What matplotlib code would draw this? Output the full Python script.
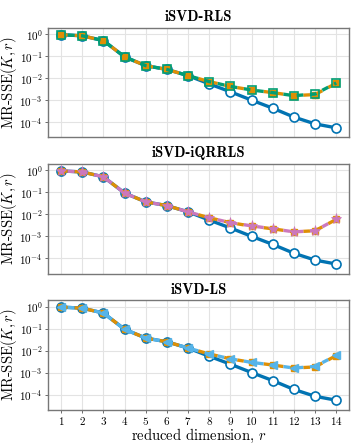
import matplotlib
matplotlib.use("Agg")
import matplotlib.pyplot as plt

r = list(range(1, 15))

# MR-SSE of the exact truncated SVD (blue, solid)
svd_err = [0.95, 0.85, 0.51, 0.093, 0.037, 0.025, 0.013, 0.0055, 0.0024,
           0.001, 0.00043, 0.00017, 0.000083, 0.000055]
# reference incremental method (orange, dashed)
inc_err = [0.95, 0.85, 0.51, 0.093, 0.037, 0.025, 0.013, 0.007, 0.0042,
           0.0029, 0.0022, 0.0016, 0.0018, 0.0059]
# the three update variants
rls_err = [0.95, 0.85, 0.51, 0.093, 0.037, 0.025, 0.013, 0.007, 0.0042,
           0.0029, 0.0022, 0.0016, 0.0019, 0.006]
iqrrls_err = [0.95, 0.85, 0.51, 0.093, 0.037, 0.025, 0.013, 0.007, 0.0042,
              0.003, 0.0022, 0.0016, 0.0018, 0.006]
ls_err = [0.95, 0.85, 0.51, 0.093, 0.037, 0.025, 0.013, 0.007, 0.0042,
          0.0029, 0.0022, 0.0016, 0.0019, 0.006]

titles = ["iSVD-RLS", "iSVD-iQRRLS", "iSVD-LS"]
variants = [rls_err, iqrrls_err, ls_err]
var_colors = ["#029e73", "#cc78bc", "#56b4e9"]
var_markers = ["s", "*", "<"]

plt.rcParams["font.family"] = "serif"
plt.rcParams["font.serif"] = ["cmr10", "DejaVu Serif"]
plt.rcParams["mathtext.fontset"] = "cm"
plt.rcParams["axes.formatter.use_mathtext"] = True
plt.rcParams["axes.unicode_minus"] = False

fig, axes = plt.subplots(3, 1, figsize=(3.57, 4.46), dpi=100)
fig.subplots_adjust(left=0.135, right=0.978, top=0.937, bottom=0.081, hspace=0.245)

for k, ax in enumerate(axes):
    ax.plot(r, svd_err, "-", color="#0173b2", lw=2.4, marker="o", ms=6.5,
            mfc="white", mec="#0173b2", mew=1.2, zorder=3)
    ax.plot(r, inc_err, color="#de8f05", lw=2.4, ls=(0, (2, 2)), marker="s",
            ms=4, mfc="#de8f05", mec="#de8f05", zorder=4)
    if var_markers[k] == "s":
        ax.plot(r, variants[k], color=var_colors[k], lw=2.4, ls=(2, (2, 2)),
                marker="s", ms=5.5, mfc="none", mec=var_colors[k], mew=1.2, zorder=5)
    elif var_markers[k] == "*":
        ax.plot(r, variants[k], color=var_colors[k], lw=2.4, ls=(2, (2, 2)),
                marker="*", ms=8, mfc=var_colors[k], mec=var_colors[k], mew=0.5, zorder=5)
    else:
        ax.plot(r, variants[k], color=var_colors[k], lw=2.4, ls=(2, (2, 2)),
                marker="<", ms=5.5, mfc=var_colors[k], mec=var_colors[k], zorder=5)

    ax.set_yscale("log")
    ax.set_ylim(2e-5, 1.9)
    ax.set_xlim(0.39, 14.61)
    ax.set_xticks(r)
    ax.set_yticks([1, 1e-1, 1e-2, 1e-3, 1e-4])
    ax.minorticks_off()
    ax.grid(True, color="#e3e3e3", lw=0.8)
    ax.set_axisbelow(True)
    for s in ax.spines.values():
        s.set_color("#777777")
        s.set_linewidth(1.0)
    ax.tick_params(labelsize=8, length=2, width=0.6, pad=2, color="#555555")
    ax.set_ylabel(r"MR-SSE$(K,r)$", fontsize=10.5)
    ax.yaxis.set_label_coords(-0.097, 0.5)
    ax.set_title(titles[k], fontsize=10.5, family="cmb10", pad=5)
    if k < 2:
        ax.tick_params(axis="x", labelbottom=False, length=0)
    else:
        ax.set_xlabel(r"reduced dimension, $r$", fontsize=10.5)
        ax.xaxis.set_label_coords(0.5, -0.155)

fig.savefig("out.png", dpi=100)
